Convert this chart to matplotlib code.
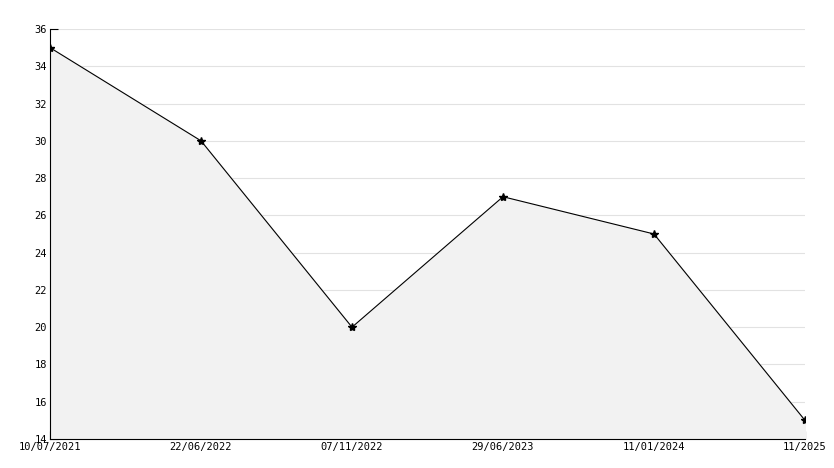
import matplotlib
matplotlib.use("Agg")
import matplotlib.pyplot as plt
from matplotlib.ticker import MultipleLocator

dates = ["10/07/2021", "22/06/2022", "07/11/2022", "29/06/2023", "11/01/2024", "11/2025"]
values = [35, 30, 20, 27, 25, 15]

fig = plt.figure(figsize=(8.34, 4.68), dpi=100)
ax = fig.add_axes([50 / 834, 29 / 468, 755 / 834, 410 / 468])
x = list(range(len(values)))
ax.fill_between(x, values, 14, color="#f2f2f2", zorder=1)
ax.plot(x, values, "-", color="black", linewidth=0.8, marker="*", markersize=6, zorder=3)
ax.set_xlim(0, len(values) - 1)
ax.set_ylim(14, 36)
ax.set_xticks(x)
ax.set_xticklabels(dates, fontsize=7.5, family="DejaVu Sans Mono")
ax.yaxis.set_major_locator(MultipleLocator(2))
ax.yaxis.set_minor_locator(MultipleLocator(1))
ax.tick_params(axis="both", direction="in", length=6, labelsize=7.5, pad=2)
ax.tick_params(axis="y", which="minor", direction="in", length=3)
for lab in ax.get_yticklabels():
    lab.set_family("DejaVu Sans Mono")
ax.grid(axis="y", color="#e2e2e2", linewidth=0.8, zorder=0)
ax.set_axisbelow(True)
for s in ("top", "right"):
    ax.spines[s].set_visible(False)
fig.savefig("out.png", dpi=100)
